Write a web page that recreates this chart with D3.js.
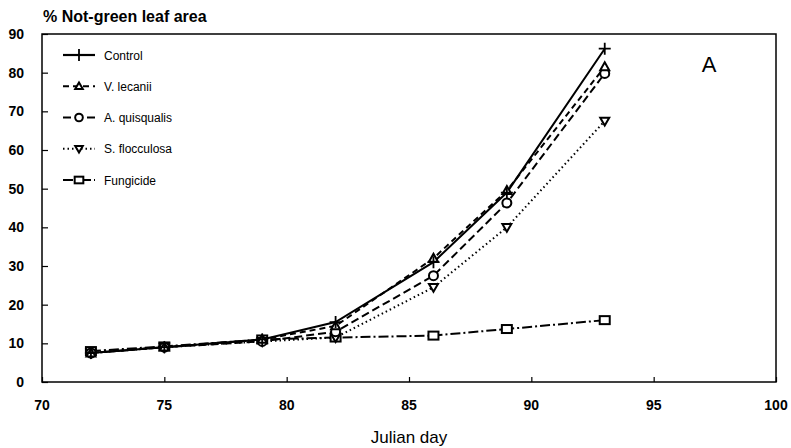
<!DOCTYPE html>
<html><head><meta charset="utf-8">
<script src="https://cdn.jsdelivr.net/npm/d3@7"></script>
<style>body{margin:0;background:#fff}svg{display:block}text{font-family:"Liberation Sans",Arial,sans-serif;fill:#000}</style>
</head><body>
<script>
const days = [72, 75, 79, 82, 86, 89, 93];
const seriesNames = ["Control", "V. lecanii", "A. quisqualis", "S. flocculosa", "Fungicide"];
const control = [7.5, 9, 11, 15.5, 31, 49, 86.2];
const vLecanii = [7.5, 9, 11, 14.5, 32, 49.5, 81.5];
const aQuisqualis = [7.5, 9, 10.5, 13, 27.5, 46.3, 79.8];
const sFlocculosa = [7.5, 9, 10.5, 11.5, 24.5, 40, 67.5];
const fungicide = [8, 9.2, 11, 11.5, 12, 13.7, 16];
const xTicks = [70, 75, 80, 85, 90, 95, 100];
const yTicks = [0, 10, 20, 30, 40, 50, 60, 70, 80, 90];

const W = 791, H = 448;
const svg = d3.select("body").append("svg").attr("width", W).attr("height", H);
const x = d3.scaleLinear().domain([70, 100]).range([42, 776]);
const y = d3.scaleLinear().domain([0, 90]).range([382, 34]);

const styles = [
  {vals: control, dash: null, marker: "plus"},
  {vals: vLecanii, dash: "6,4", marker: "tri"},
  {vals: aQuisqualis, dash: "8,4", marker: "circ"},
  {vals: sFlocculosa, dash: "1.5,3", marker: "tridown"},
  {vals: fungicide, dash: "10,3,2,3", marker: "sq"}
];

svg.append("rect").attr("x", 42).attr("y", 34).attr("width", 734).attr("height", 348)
  .attr("fill", "none").attr("stroke", "#000").attr("stroke-width", 1.5);

const yAxis = d3.axisRight(y).tickValues(yTicks).tickSize(6).tickFormat("");
svg.append("g").attr("transform", "translate(42,0)").call(yAxis)
  .call(g => g.select(".domain").remove())
  .selectAll("line").attr("stroke-width", 1.2);
const xAxis = d3.axisTop(x).tickValues(xTicks).tickSize(5).tickFormat("");
svg.append("g").attr("transform", "translate(0,382)").call(xAxis)
  .call(g => g.select(".domain").remove())
  .selectAll("line").attr("stroke-width", 1.2);

svg.append("g").selectAll("text").data(yTicks).join("text")
  .attr("x", 24).attr("y", d => y(d) + 5).attr("text-anchor", "end")
  .attr("font-size", 14).attr("font-weight", "bold").text(d => d);
svg.append("g").selectAll("text").data(xTicks).join("text")
  .attr("x", d => x(d)).attr("y", 410).attr("text-anchor", "middle")
  .attr("font-size", 14).attr("font-weight", "bold").text(d => d);

svg.append("text").attr("x", 43).attr("y", 22).attr("font-size", 16).attr("font-weight", "bold")
  .text("% Not-green leaf area");
svg.append("text").attr("x", x(85)).attr("y", 443).attr("text-anchor", "middle").attr("font-size", 17)
  .text("Julian day");
svg.append("text").attr("x", 709).attr("y", 72).attr("text-anchor", "middle").attr("font-size", 22)
  .text("A");

function drawMarker(g, type, cx, cy, k) {
  const s = 4.5 * k;
  if (type === "plus") {
    g.append("path").attr("d", `M${cx - 6},${cy}H${cx + 6}M${cx},${cy - 6}V${cy + 6}`)
      .attr("stroke", "#000").attr("stroke-width", 1.8).attr("fill", "none");
  } else if (type === "tri") {
    g.append("path").attr("d", `M${cx},${cy - s}L${cx + s},${cy + s * 0.75}L${cx - s},${cy + s * 0.75}Z`)
      .attr("stroke", "#000").attr("stroke-width", 2).attr("fill", "#fff");
  } else if (type === "tridown") {
    g.append("path").attr("d", `M${cx},${cy + s}L${cx + s},${cy - s * 0.75}L${cx - s},${cy - s * 0.75}Z`)
      .attr("stroke", "#000").attr("stroke-width", 2).attr("fill", "#fff");
  } else if (type === "circ") {
    g.append("circle").attr("cx", cx).attr("cy", cy).attr("r", s)
      .attr("stroke", "#000").attr("stroke-width", 2).attr("fill", "#fff");
  } else if (type === "sq") {
    g.append("rect").attr("x", cx - s - 0.5).attr("y", cy - s + 0.5).attr("width", 2 * s + 1).attr("height", 2 * s - 1)
      .attr("stroke", "#000").attr("stroke-width", 2).attr("fill", "#fff");
  }
}

const line = d3.line().x((d, i) => x(days[i])).y(d => y(d));
const plot = svg.append("g");
styles.slice().reverse().forEach(st => {
  plot.append("path").datum(st.vals).attr("d", line).attr("fill", "none")
    .attr("stroke", "#000").attr("stroke-width", 2)
    .attr("stroke-dasharray", st.dash);
});
styles.slice().reverse().forEach(st => {
  st.vals.forEach((v, i) => drawMarker(plot, st.marker, x(days[i]), y(v), 1));
});

const leg = svg.append("g");
const legY = d3.scalePoint().domain(seriesNames).range([55, 180]);
seriesNames.forEach((n, i) => {
  const yy = legY(n);
  leg.append("line").attr("x1", 63).attr("x2", 95).attr("y1", yy).attr("y2", yy)
    .attr("stroke", "#000").attr("stroke-width", 2.2).attr("stroke-dasharray", styles[i].dash);
  drawMarker(leg, styles[i].marker, 79, yy, 0.85);
  leg.append("text").attr("x", 104).attr("y", yy + 4.5).attr("font-size", 12).text(n);
});
</script>
</body></html>
